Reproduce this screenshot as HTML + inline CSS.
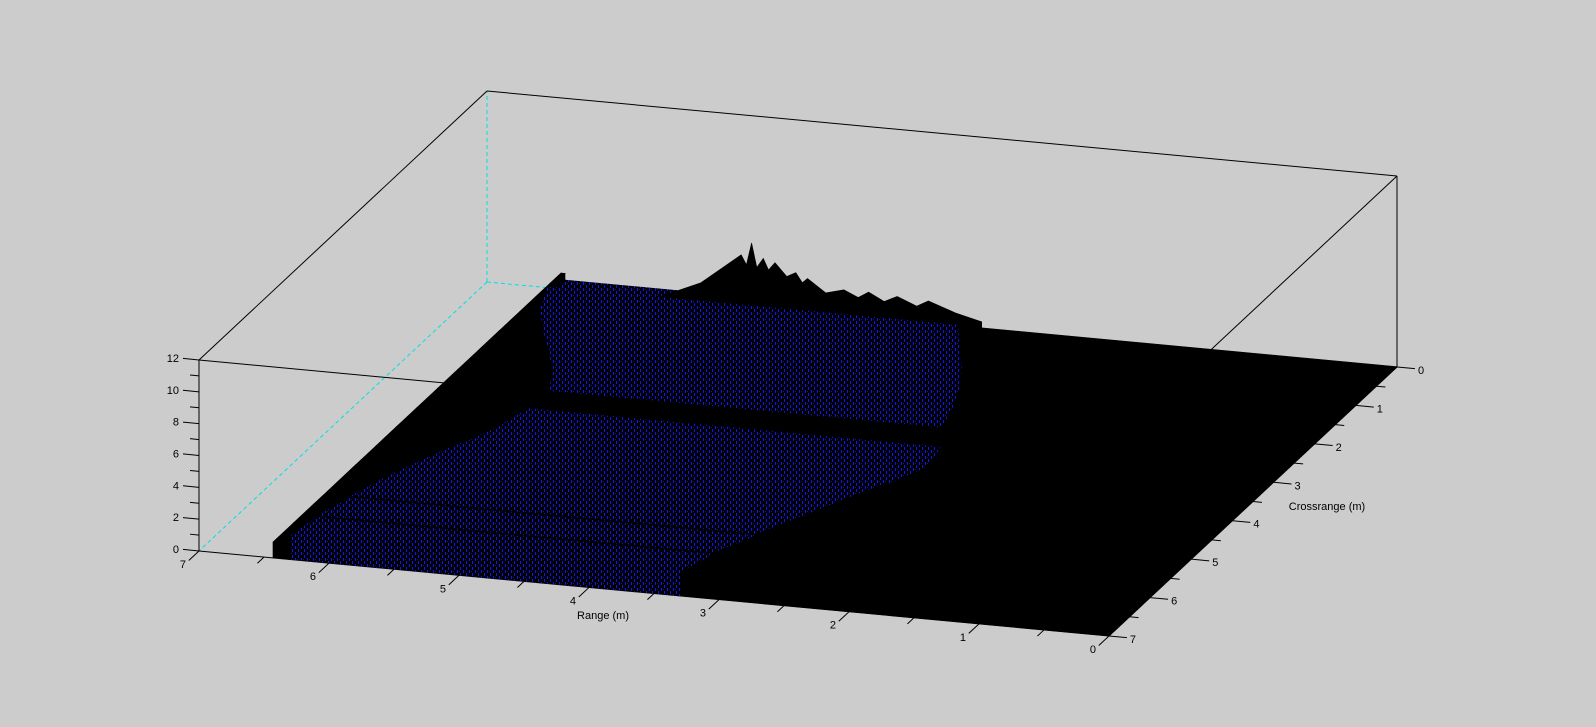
<!DOCTYPE html>
<html>
<head>
<meta charset="utf-8">
<style>
html,body{margin:0;padding:0;background:#cccccc;}
svg{display:block;}
text{font-family:"Liberation Sans",sans-serif;font-size:11px;fill:#000;}
</style>
</head>
<body>
<svg id="chart" width="1596" height="727" viewBox="0 0 1596 727" xmlns="http://www.w3.org/2000/svg">
  <defs>
    <pattern id="speck" patternUnits="userSpaceOnUse" width="6" height="6">
      <rect x="0" y="0" width="6" height="6" fill="#000"/>
      <rect x="1" y="0" width="1" height="3" fill="#1414f0"/>
      <rect x="4" y="3" width="1" height="3" fill="#1414f0"/>
      <rect x="3" y="1" width="1" height="1" fill="#0c0cc8"/>
    </pattern>
  </defs>
  <rect width="1596" height="727" fill="#cccccc"/>
  <g id="box"></g>
  <g id="surf"></g>
  <g id="axes"></g>
  <text x="603" y="619" text-anchor="middle">Range (m)</text>
  <text x="1327" y="510" text-anchor="middle">Crossrange (m)</text>
</svg>
<script>
// ---- data ----
const rangeTicks = [0, 1, 2, 3, 4, 5, 6, 7];
const crossTicks = [0, 1, 2, 3, 4, 5, 6, 7];
const zTicks = [0, 2, 4, 6, 8, 10, 12];
const bandEdges = [0, 0.5, 1, 1.5, 2, 2.5, 3, 3.5, 4, 4.5, 5, 5.5, 6, 6.5, 7];
const fanStart = [3.3, 3.15, 2.95, 2.8, 2.65, 2.6, 2.5, 2.3, 2.4, 2.6, 2.75, 2.95, 3.1, 3.3];
const fanEnd = [6.4, 6.35, 6.2, 6.0, 5.8, 5.6, 5.55, 5.6, 5.7, 5.85, 6.0, 6.1, 6.2, 6.3];
const fanHeight = [0.6, 1.4, 1.5, 1.5, 1.5, 1.5, 0.5, 1.6, 1.6, 1.7, 1.7, 1.7, 1.6, 1.5];
const fanTextured = [1, 1, 1, 1, 1, 1, 0, 1, 1, 1, 1, 1, 1, 1];
const plateauHeight = [1.0, 1.0, 1.0, 1.0, 1.0, 1.0, 1.0, 1.0, 1.0, 1.0, 1.0, 1.0, 1.0, 1.0];
const surfaceEnd = 6.43;
const ridgeCross = 0.3;
const ridgeR = [5.6, 5.26, 4.95, 4.91, 4.87, 4.83, 4.78, 4.74, 4.69, 4.6, 4.53, 4.48, 4.44, 4.3, 4.16, 4.05, 3.97, 3.85, 3.75, 3.6, 3.51, 3.3, 3.1];
const ridgeZ = [0.8, 2.0, 4.0, 3.4, 4.8, 3.3, 3.9, 3.2, 3.7, 2.9, 3.2, 2.6, 2.9, 2.1, 2.4, 2.0, 2.4, 1.9, 2.3, 1.8, 2.2, 1.6, 1.2];

// ---- projection ----
function P(r, c, z) {
  return [1397 - 130 * r - 41.143 * c, 367 - 12.143 * r + 38.429 * c - 15.917 * z];
}
const NS = 'http://www.w3.org/2000/svg';
function line(g, a, b, stroke, dash, name) {
  const el = document.createElementNS(NS, 'line');
  el.setAttribute('x1', a[0]); el.setAttribute('y1', a[1]);
  el.setAttribute('x2', b[0]); el.setAttribute('y2', b[1]);
  el.setAttribute('stroke', stroke); el.setAttribute('stroke-width', '1');
  if (dash) el.setAttribute('stroke-dasharray', dash);
  
  
  g.appendChild(el);
}
function poly(g, pts, fill, name) {
  const el = document.createElementNS(NS, 'polygon');
  el.setAttribute('points', pts.map(p => p[0].toFixed(1) + ',' + p[1].toFixed(1)).join(' '));
  el.setAttribute('fill', fill);
  el.setAttribute('stroke', fill === 'url(#speck)' ? 'none' : fill);
  el.setAttribute('stroke-width', '0.6');
  
  
  g.appendChild(el);
}
function label(g, x, y, s, anchor, name) {
  const el = document.createElementNS(NS, 'text');
  el.setAttribute('x', x); el.setAttribute('y', y);
  el.setAttribute('text-anchor', anchor);
  el.textContent = s;
  
  
  g.appendChild(el);
}

// ---- box ----
const box = document.getElementById('box');
const A = P(7, 7, 0), B = P(0, 7, 0), C = P(0, 0, 0), D = P(7, 0, 0);
const A2 = P(7, 7, 12), B2 = P(0, 7, 12), C2 = P(0, 0, 12), D2 = P(7, 0, 12);
line(box, D, D2, '#00e0e0', '4,3', 'hidden-edge');
line(box, D, A, '#00e0e0', '4,3', 'hidden-edge');
line(box, D, C, '#00e0e0', '4,3', 'hidden-edge');
line(box, A, A2, '#000', null, 'box-edge');
line(box, A2, D2, '#000', null, 'box-edge');
line(box, D2, C2, '#000', null, 'box-edge');
line(box, C2, C, '#000', null, 'box-edge');
line(box, A2, B2, '#000', null, 'box-edge');
line(box, B2, C2, '#000', null, 'box-edge');
line(box, B, B2, '#000', null, 'box-edge');
line(box, A, B, '#000', null, 'box-edge');
line(box, B, C, '#000', null, 'box-edge');

// ---- surface ----
const surf = document.getElementById('surf');
function edgeVal(arr, i, side) {
  const j = side === 0 ? i - 1 : i + 1;
  if (j < 0 || j >= arr.length) return arr[i];
  return (arr[i] + arr[j]) / 2;
}
function slab(a0, a1, b0, b1, c0, c1, h, fill, frontFill, name) {
  poly(surf, [P(a0, c0, 0), P(b0, c1, 0), P(b0, c1, h), P(a0, c0, h)], '#000', name + '-side');
  poly(surf, [P(a1, c0, 0), P(b1, c1, 0), P(b1, c1, h), P(a1, c0, h)], '#000', name + '-side');
  poly(surf, [P(b0, c1, 0), P(b1, c1, 0), P(b1, c1, h), P(b0, c1, h)], frontFill, name + '-front');
  poly(surf, [P(a0, c0, h), P(a1, c0, h), P(b1, c1, h), P(b0, c1, h)], fill, name + '-top');
}
const lastBand = fanStart.length - 1;
for (let i = 0; i < fanStart.length; i++) {
  const c0 = bandEdges[i], c1 = bandEdges[i + 1];
  const s0 = edgeVal(fanStart, i, 0), s1 = edgeVal(fanStart, i, 1);
  const e0 = edgeVal(fanEnd, i, 0), e1 = edgeVal(fanEnd, i, 1);
  slab(0, s0, 0, s1, c0, c1, 0.02, '#000', '#000', 'floor');
  slab(e0, surfaceEnd, e1, surfaceEnd, c0, c1, plateauHeight[i], '#000', '#000', 'plateau');
  const tex = fanTextured[i] ? 'url(#speck)' : '#000';
  slab(s0, e0, s1, e1, c0, c1, fanHeight[i], tex, i === lastBand ? tex : '#000', 'fan');
  if (i === 0) {
    const pts = [];
    for (let k = 0; k < ridgeR.length; k++) pts.push(P(ridgeR[k], ridgeCross, ridgeZ[k]));
    pts.push(P(ridgeR[ridgeR.length - 1], ridgeCross, fanHeight[0]));
    pts.push(P(ridgeR[0], ridgeCross, fanHeight[0]));
    poly(surf, pts, '#000', 'peak-ridge');
  }
}

// ---- axes ticks ----
const axes = document.getElementById('axes');
for (let z = 0; z <= 12; z++) {
  const p = P(7, 7, z);
  const major = zTicks.indexOf(z) >= 0;
  const len = major ? 16 : 9;
  line(axes, [p[0] - len, p[1] - len * 0.1], p, '#000', null, major ? 'z-major-tick' : 'z-minor-tick');
}
zTicks.forEach(z => { const p = P(7, 7, z); label(axes, p[0] - 20, p[1] + 2, String(z), 'end', 'z-tick-label'); });
for (let k = 0; k <= 14; k++) {
  const r = k / 2;
  const p = P(r, 7, 0);
  const major = k % 2 === 0;
  const len = major ? 14 : 9;
  line(axes, p, [p[0] - 0.731 * len, p[1] + 0.682 * len], '#000', null, major ? 'range-major-tick' : 'range-minor-tick');
}
rangeTicks.forEach(r => { const p = P(r, 7, 0); label(axes, p[0] - 16, p[1] + 17, String(r), 'middle', 'range-tick-label'); });
for (let k = 0; k <= 14; k++) {
  const c = k / 2;
  const p = P(0, c, 0);
  const major = k % 2 === 0;
  const len = major ? 18 : 9;
  line(axes, p, [p[0] + 0.9957 * len, p[1] + 0.093 * len], '#000', null, major ? 'cross-major-tick' : 'cross-minor-tick');
}
crossTicks.forEach(c => { const p = P(0, c, 0); label(axes, p[0] + 24, p[1] + 7, String(c), 'middle', 'cross-tick-label'); });
</script>
</body>
</html>
